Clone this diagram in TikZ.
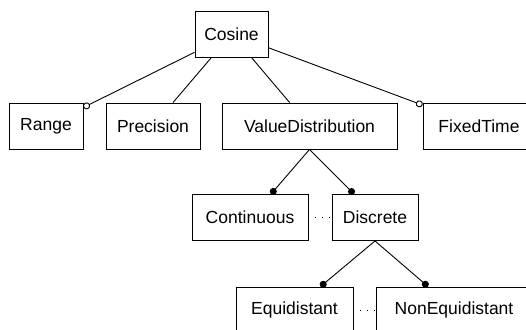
\documentclass[tikz,border=0pt]{standalone}
\usepackage{fontspec}
\setmainfont{Liberation Sans}
\usetikzlibrary{arrows.meta}

\begin{document}
\begin{tikzpicture}[x=1pt, y=-1pt, line width=0.9pt,
	feat/.style={draw, rectangle, minimum height=46pt, inner sep=0pt, font=\fontsize{17.5}{20}\selectfont},
	optional/.style={-{Circle[open,length=7pt]}},
	mandatory/.style={-{Circle[length=7pt]}},
	alternative/.style={dash pattern=on 1pt off 6pt}]
	\useasboundingbox (0,0) rectangle (526,329);
	% features
	\node[feat, minimum width=73pt] (cosine) at (231.5,34) {Cosine};
	\node[feat, minimum width=74pt] (range) at (46,126) {Range};
	\node[feat, minimum width=94pt] (precision) at (153,126) {Precision};
	\node[feat, minimum width=175pt] (valuedist) at (309.5,126) {ValueDistribution};
	\node[feat, minimum width=112pt] (fixedtime) at (479,126) {FixedTime};
	\node[feat, minimum width=116pt] (continuous) at (250,217.5) {Continuous};
	\node[feat, minimum width=86pt] (discrete) at (375,217.5) {Discrete};
	\node[feat, minimum width=117pt] (equidistant) at (294.5,310) {Equidistant};
	\node[feat, minimum width=156pt] (nonequidistant) at (454,310) {NonEquidistant};
	% relations
	\draw[optional] (cosine) -- (range);
	\draw (cosine) -- (precision);
	\draw (cosine) -- (valuedist);
	\draw[optional] (cosine) -- (fixedtime);
	\draw[mandatory] (valuedist.south) -- ([xshift=21]continuous.north);
	\draw[mandatory] (valuedist.south) -- ([xshift=-21]discrete.north);
	\draw[alternative] (continuous) -- (discrete);
	\draw[mandatory] (discrete.south) -- ([xshift=26]equidistant.north);
	\draw[mandatory] (discrete.south) -- ([xshift=-26]nonequidistant.north);
	\draw[alternative] (equidistant) -- (nonequidistant);
\end{tikzpicture}
\end{document}
